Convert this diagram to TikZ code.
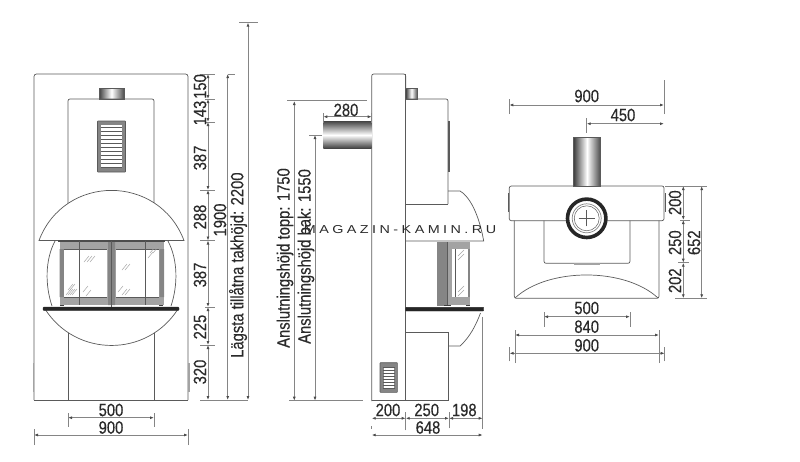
\documentclass[tikz,border=0pt]{standalone}
\usepackage{fontspec}
\usetikzlibrary{arrows.meta}
\setmainfont{Liberation Sans}
\newfontfamily\dimfont[FakeStretch=0.83,FakeBold=0.35]{Liberation Sans}
\newfontfamily\markfont[FakeStretch=1.25,LetterSpace=30]{Liberation Sans}
\definecolor{linegray}{HTML}{5a5a5a}
\definecolor{dimgray}{HTML}{858585}
\definecolor{framegray}{HTML}{a3a3a3}
\definecolor{sidegray}{HTML}{858585}
\definecolor{inkgray}{HTML}{2a2a2a}
\tikzset{
 outline/.style={draw=linegray, line width=0.7pt},
 dimline/.style={draw=dimgray, line width=0.9pt, {Latex[length=4pt,width=3pt,color=black!70]}-{Latex[length=4pt,width=3pt,color=black!70]}},
 extline/.style={draw=dimgray, line width=0.8pt},
 dimtext/.style={font=\dimfont\fontsize{17.8}{18}\selectfont, text=inkgray, inner sep=0pt},
 dimup/.style={dimtext, rotate=90},
 glint/.style={draw=black!35, line width=0.5pt},
 flue/.style={left color=black!75, right color=black!70, middle color=white, draw=linegray, line width=0.5pt}
}
\newcommand{\ventgrid}[4]{
 \draw[fill=sidegray, draw=linegray, rounded corners=0.5pt, line width=0.6pt] (#1,#2) rectangle (#3,#4);
 \fill[white] (#1+3.5,#2+4) rectangle (#3-3.5,#4-4);
}
\begin{document}
\begin{tikzpicture}[x=1pt, y=-1pt]
 \useasboundingbox (0,0) rectangle (800,461);

 \draw[outline, rounded corners=2.5pt] (34,400) -- (34,74) -- (188,74) -- (188,400);
 \draw[linegray, line width=0.9pt] (34,400) -- (188,400);
 \draw[draw=framegray, line width=1.6pt] (33.5,363) -- (33.5,392) (189,363) -- (189,392);
 \shade[flue] (99,88) rectangle (124,99);
 \draw[outline, rounded corners=2pt] (68,205) -- (68,99) -- (154,99) -- (154,205);
 \draw[outline] (68,332) -- (68,400) (154,332) -- (154,400);
 \ventgrid{97.5}{121}{125.5}{172}
 \foreach \sy in {127,131,...,167}
  \draw[draw=linegray, line width=0.6pt] (101,\sy) -- (122,\sy);
 \draw[outline] (55,241) .. controls (45,260) and (45,285) .. (52,306);
 \draw[outline] (168,241) .. controls (178,260) and (178,285) .. (171,306);
 \draw[outline, fill=white] (39,240.5) .. controls (64.3,173.7) and (158.7,173.7) .. (184,240.5) -- cycle;
 \draw[outline, fill=white] (45,309) .. controls (75.9,357.6) and (147.1,357.6) .. (178,309) -- cycle;
 \fill[framegray] (59.5,241) rectangle (164,305);
 \fill[sidegray] (59.5,249) rectangle (64,297) (159,249) rectangle (164,297) (108,241) rectangle (115,305);
 \fill[white] (64,249) rectangle (107,297) (116,249) rectangle (159,297);
 \draw[draw=black!70, line width=1.6pt] (58,241) -- (165,241);
 \draw[draw=linegray, line width=0.6pt] (79,241) -- (79,305) (145,241) -- (145,305) (111.5,241) -- (111.5,307);
 \draw[draw=linegray, line width=0.5pt] (64,297) -- (107,297) (116,297) -- (159,297) (64,249) -- (107,249) (116,249) -- (159,249);
 \foreach \gx/\gy in {66/295,68/295,70/295,72/295,68/290,70/290,83/292,86/296,84/262,87/262,90/262,122/295,125/295,118/292,122/270,125/270,150/253,153/253,148/258}
  \draw[glint] (\gx,\gy) -- ++(5,-6);
 \draw[draw=black!75, line width=1.2pt] (60,305.5) -- (64,305.5) (159,305.5) -- (163,305.5);
 \draw[fill=black!85, draw=black!85, rounded corners=1pt] (43,307) rectangle (179,310.5);

 \draw[outline, rounded corners=2pt] (371.7,401) -- (371.7,74) -- (405.7,74) -- (405.7,88);
 \draw[outline] (371.7,400.7) -- (448,400.7);
 \draw[outline] (405.7,74) -- (405.7,400.7);
 \shade[flue] (405.7,88) rectangle (417.5,99);
 \draw[outline, rounded corners=2pt] (405.7,99) -- (448,99) -- (448,204);
 \draw[outline] (405.7,204) -- (448,204);
 \draw[draw=linegray, line width=1.4pt] (449,120.7) -- (449,171.7);
 \draw[outline] (448,191) -- (460,191) .. controls (472,198) and (480,220) .. (483.7,241) -- (405.7,241);
 \fill[sidegray] (436.7,242) rectangle (447,306);
 \fill[framegray] (447,242) rectangle (470,305);
 \fill[white] (451.7,249) rectangle (468,297);
 \fill[sidegray] (468,249) rectangle (470,297);
 \draw[draw=linegray, line width=0.6pt] (447,242) -- (447,305) (455,249) -- (455,297);
 \foreach \gy in {256,260,292,296}
  \draw[glint] (458,\gy) -- ++(6,-6);
 \draw[draw=black!75, line width=1.2pt] (444,305.5) -- (451,305.5) (466,305.5) -- (470,305.5);
 \draw[fill=black!85, draw=black!85, rounded corners=0.5pt] (405.7,307.3) rectangle (483.7,311);
 \draw[outline] (480.5,313) .. controls (476,325) and (470,337) .. (460,346) -- (448,346);
 \draw[outline] (405.7,332.7) -- (448,332.7) -- (448,400.7);
 \ventgrid{380}{362.7}{397.3}{392.3}
 \foreach \sy in {367,370,...,389}
  \draw[draw=linegray, line width=0.5pt] (382.5,\sy) -- (394.8,\sy);
 \shade[top color=black!70, bottom color=black!75, middle color=white] (323.3,121.7) rectangle (371.7,148.3);

 \draw[outline, rounded corners=2pt, fill=white] (509.3,220.7) -- (509.3,186) -- (664,186) -- (664,220.7) -- cycle;
 \shade[flue] (573.7,137.7) rectangle (600.3,186);
 \draw[draw=linegray, line width=1.2pt] (508.3,193) -- (508.3,212) (665.2,193) -- (665.2,212);
 \draw[outline, rounded corners=2pt] (514.3,220.7) -- (514.3,298.3) -- (659,298.3) -- (659,220.7);
 \draw[outline] (515,298) .. controls (548,267.3) and (625,267.3) .. (658,298);
 \draw[outline, rounded corners=2pt] (544,220.7) -- (544,263.3) -- (630,263.3) -- (630,220.7);
 \fill[framegray] (573.7,263.3) rectangle (600.3,265);
 \node[circle, draw=black!85, line width=3.6pt, fill=white, minimum size=38.4pt, inner sep=0pt] (ring) at (586.7,218.3) {};
 \node[circle, draw=dimgray, line width=0.7pt, minimum size=29pt, inner sep=0pt] (rim) at (ring) {};
 \node[circle, draw=linegray, line width=0.5pt, minimum size=25pt, inner sep=0pt] (bore) at (ring) {};
 \draw[outline] ([xshift=-8pt]ring.center) -- ([xshift=8pt]ring.center) ([yshift=-8pt]ring.center) -- ([yshift=8pt]ring.center);

 \foreach \nm/\cx/\cy in {fa/208/74, fb/208/99, fc/208/122, fd/208/190, fe/208/240.5, ff/208/307, fg/208/345, fh/208/400,
   ga/227.7/74, gh/227.7/400, ra/248/22.6, rh/248/400,
   wl/68/417.7, wr/154/417.7, ol/34/435, or/188/435,
   sa/294.3/101, sb/294.3/400.7, pa/315/135, pb/315/400.7, dl/323.3/116.7, dr/371.7/116.7,
   ba/371.7/418.3, bb/405.7/418.3, bc/449/418.3, bd/482.7/418.3, ca/371.7/435, cd/482.7/435,
   ta/509.3/105, tb/664/105, tc/586.7/123.7, td/664/123.7,
   ua/683.3/186, ub/683.3/220, uc/683.3/262.7, ud/683.3/298.3, va/701.7/186, vd/701.7/298.3,
   ha/544/316.7, hb/630/316.7, ia/515/335, ib/659/335, ja/509.5/353.3, jb/664.7/353.3}
  \coordinate (\nm) at (\cx,\cy);

 \foreach \a/\b in {fa/fb, fb/fc, fc/fd, fd/fe, fe/ff, ff/fg, fg/fh, ga/gh, ra/rh, wl/wr, ol/or,
   sa/sb, pa/pb, dl/dr, ba/bb, bb/bc, bc/bd, ca/cd, ta/tb, tc/td, ua/ub, ub/uc, uc/ud, va/vd, ha/hb, ia/ib, ja/jb}
  \draw[dimline] (\a) -- (\b);

 \foreach \p in {fa,fd,fe,fg}
  \draw[extline] ([xshift=-8pt]\p) -- ([xshift=7pt]\p);
 \foreach \p in {fb,fc,ff}
  \draw[extline] ([xshift=-3pt]\p) -- ([xshift=7pt]\p);
 \draw[extline] (200,400) -- (rh) ([xshift=-9pt]ra) -- ([xshift=10pt]ra);
 \draw[extline] (ga) -- ([xshift=7pt]ga);
 \draw[extline] ([yshift=-9pt]wl) -- ([yshift=5pt]wl) ([yshift=-9pt]wr) -- ([yshift=5pt]wr);
 \draw[extline] ([yshift=-10pt]ol) -- ([yshift=6pt]ol) ([yshift=-10pt]or) -- ([yshift=6pt]or);
 \draw[extline] (287,100.7) -- (366.7,100.7) (309,135) -- (321.7,135) (289,400.7) -- (362.7,400.7);
 \draw[extline] ([yshift=-6pt]dl) -- ([yshift=4pt]dl) ([yshift=-6pt]dr) -- ([yshift=4pt]dr);
 \draw[extline] ([yshift=-8pt]ba) -- ([yshift=6pt]ca);
 \draw[extline] ([yshift=-12pt]bb) -- ([yshift=6pt]bb) ([yshift=-10pt]bc) -- ([yshift=6pt]bc);
 \draw[extline] (482.7,316.7) -- ([yshift=6pt]cd);
 \draw[extline] ([yshift=-9pt]ta) -- ([yshift=6pt]ta) ([yshift=-9pt]tb) -- ([yshift=25pt]tb);
 \draw[extline] ([yshift=-9pt]tc) -- ([yshift=6pt]tc);
 \draw[extline] (665,186) -- (707,186) (675,298.3) -- (707,298.3) (680,220) -- (690,220) (678,262.7) -- (689,262.7);
 \draw[extline] ([yshift=-10pt]ha) -- ([yshift=5pt]ha) ([yshift=-10pt]hb) -- ([yshift=5pt]hb);
 \draw[extline] ([yshift=-28pt]ia) -- ([yshift=5pt]ia) ([yshift=-28pt]ib) -- ([yshift=5pt]ib);
 \draw[extline] ([yshift=-8pt]ja) -- ([yshift=6pt]ja) ([yshift=-8pt]jb) -- ([yshift=6pt]jb);

 \node[dimup] (n150) at (200,86.5) {150};
 \node[dimup] (n143) at (200,113) {143};
 \node[dimup] (n387a) at (200,158) {387};
 \node[dimup] (n288) at (200,217) {288};
 \node[dimup] (n1900) at (220,220) {1900};
 \node[dimup] (n387b) at (200,275) {387};
 \node[dimup] (n225) at (200,327) {225};
 \node[dimup] (n320) at (200,372) {320};
 \node[dimup, anchor=west] (ntak) at (238,358) {Lägsta tillåtna takhöjd: 2200};
 \node[dimtext] (n500a) at (111,410) {500};
 \node[dimtext] (n900a) at (111,427.5) {900};
 \node[dimup, anchor=west] (ntopp) at (285,348) {Anslutningshöjd topp: 1750};
 \node[dimup, anchor=west] (nbak) at (306,344) {Anslutningshöjd bak: 1550};
 \node[dimtext] (n280) at (346,110) {280};
 \node[dimtext] (n200a) at (388,410) {200};
 \node[dimtext] (n250a) at (426.7,410) {250};
 \node[dimtext] (n198) at (464.3,410) {198};
 \node[dimtext] (n648) at (428,427.5) {648};
 \node[dimtext] (n900b) at (586.7,96) {900};
 \node[dimtext] (n450) at (623,115) {450};
 \node[dimup] (n200b) at (675,202.7) {200};
 \node[dimup] (n250b) at (675,242.7) {250};
 \node[dimup] (n202) at (675,280.7) {202};
 \node[dimup] (n652) at (694,242.7) {652};
 \node[dimtext] (n500b) at (586.7,308) {500};
 \node[dimtext] (n840) at (586.7,326.7) {840};
 \node[dimtext] (n900c) at (586.7,345.3) {900};
 \node[inner sep=0pt, text=inkgray, font=\markfont\fontsize{11.5}{12}\selectfont] (mark) at (400,230) {MAGAZIN-KAMIN.RU};
\end{tikzpicture}
\end{document}
